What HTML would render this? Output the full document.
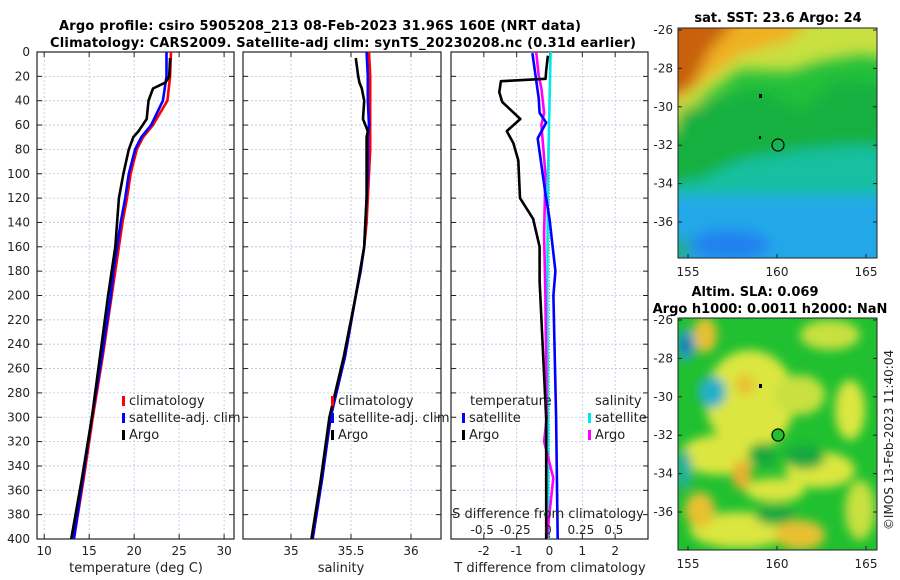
<!DOCTYPE html>
<html><head><meta charset="utf-8"><style>
body{margin:0;background:#fff;}
svg{display:block;font-family:"DejaVu Sans","Liberation Sans",sans-serif;}
</style></head><body>
<svg id="fig" width="900" height="580" viewBox="0 0 900 580" xmlns="http://www.w3.org/2000/svg">
<defs>
<filter id="bl" x="-50%" y="-50%" width="200%" height="200%"><feGaussianBlur stdDeviation="7"/></filter>
<filter id="bl2" x="-50%" y="-50%" width="200%" height="200%"><feGaussianBlur stdDeviation="5"/></filter>
<clipPath id="c1"><rect x="678" y="28" width="199" height="230"/></clipPath>
<clipPath id="c2"><rect x="678" y="318" width="199" height="232"/></clipPath>
</defs>
<text x="320" y="30" text-anchor="middle" font-size="13" font-weight="bold" textLength="522">Argo profile: csiro 5905208_213 08-Feb-2023 31.96S 160E (NRT data)</text>
<text x="343" y="47" text-anchor="middle" font-size="13" font-weight="bold" textLength="586">Climatology: CARS2009. Satellite-adj clim: synTS_20230208.nc (0.31d earlier)</text>

<g id="sstmap" clip-path="url(#c1)">
<rect x="678" y="28" width="199" height="230" fill="#22c03a"/>
<g filter="url(#bl)">
<polygon points="660,10 900,10 900,60 860,55 820,62 790,72 740,70 700,100 690,130 660,130" fill="#c8e040"/>
<polygon points="660,10 820,10 790,40 740,55 700,85 660,110" fill="#f0b020"/>
<polygon points="660,10 745,10 710,50 690,90 660,100" fill="#c86010"/>
<polygon points="680,110 760,90 800,110 840,80 900,90 900,170 860,150 820,150 760,170 700,185 660,190" fill="#18b040"/>
<polygon points="740,160 800,150 860,145 900,150 900,200 660,200 660,185 700,180" fill="#18c0a0"/>
<rect x="660" y="195" width="250" height="80" fill="#20a8e8"/>
<ellipse cx="730" cy="245" rx="40" ry="15" fill="#2080f0"/>
<ellipse cx="680" cy="250" rx="10" ry="10" fill="#20b040"/>
</g>
<rect x="759" y="94" width="3" height="4" fill="#000"/>
<rect x="759" y="136" width="2" height="3" fill="#000"/>
<circle cx="778" cy="145" r="6" fill="none" stroke="#000" stroke-width="1.2"/>
</g>
<rect x="678" y="28" width="199" height="230" fill="none" stroke="#222"/>
<text x="778" y="22" text-anchor="middle" font-size="13" font-weight="bold">sat. SST: 23.6 Argo: 24</text>

<g id="slamap" clip-path="url(#c2)">
<rect x="678" y="318" width="199" height="232" fill="#20c030"/>
<g filter="url(#bl2)">
<ellipse cx="750" cy="400" rx="45" ry="50" fill="#dce640"/>
<ellipse cx="720" cy="455" rx="40" ry="20" fill="#dce640"/>
<ellipse cx="800" cy="395" rx="25" ry="20" fill="#c8e040"/>
<ellipse cx="830" cy="335" rx="30" ry="15" fill="#c8e040"/>
<ellipse cx="850" cy="410" rx="15" ry="30" fill="#dce640"/>
<ellipse cx="820" cy="470" rx="35" ry="18" fill="#dce640"/>
<ellipse cx="740" cy="530" rx="50" ry="18" fill="#dce640"/>
<ellipse cx="800" cy="535" rx="25" ry="15" fill="#e8c030"/>
<ellipse cx="860" cy="510" rx="15" ry="30" fill="#c8e040"/>
<ellipse cx="775" cy="490" rx="30" ry="12" fill="#dce640"/>
<ellipse cx="705" cy="335" rx="12" ry="18" fill="#e8c030"/>
<ellipse cx="742" cy="475" rx="10" ry="15" fill="#e8b030"/>
<ellipse cx="700" cy="510" rx="15" ry="18" fill="#e8c030"/>
<ellipse cx="745" cy="385" rx="10" ry="10" fill="#e8c030"/>
<ellipse cx="686" cy="345" rx="9" ry="16" fill="#20a0d0"/>
<ellipse cx="686" cy="345" rx="4" ry="6" fill="#103090"/>
<ellipse cx="712" cy="392" rx="14" ry="16" fill="#20b0c8"/>
<ellipse cx="684" cy="470" rx="8" ry="20" fill="#20b0a0"/>
<ellipse cx="762" cy="455" rx="14" ry="12" fill="#18a840"/>
<ellipse cx="805" cy="457" rx="20" ry="12" fill="#18a840"/>
<ellipse cx="775" cy="515" rx="20" ry="10" fill="#18a840"/>
</g>
<rect x="759" y="384" width="3" height="4" fill="#000"/>
<circle cx="778" cy="435" r="6" fill="#20c030" stroke="#000" stroke-width="1.2"/>
</g>
<rect x="678" y="318" width="199" height="232" fill="none" stroke="#222"/>
<text x="755" y="296" text-anchor="middle" font-size="13" font-weight="bold">Altim. SLA: 0.069</text>
<text x="770" y="313" text-anchor="middle" font-size="13" font-weight="bold">Argo h1000: 0.0011 h2000: NaN</text>
<text transform="translate(893,440) rotate(-90)" text-anchor="middle" font-size="12" fill="#222">©IMOS 13-Feb-2023 11:40:04</text>
<g id="axes"></g>
</svg>
<script>
// depth levels (dbar) and series
const tempDepth=[0,20,40,60,70,80,100,120,140,160,180,200,250,300,350,400];
const tempClim=[24.1,24.0,23.7,22.1,21.0,20.3,19.6,19.2,18.7,18.3,17.9,17.5,16.5,15.4,14.4,13.3];
const tempSat=[23.6,23.6,23.2,21.9,20.8,20.1,19.4,19.0,18.5,18.1,17.7,17.4,16.4,15.3,14.3,13.3];
const argoDepth=[5,20,25,30,40,55,65,70,80,100,120,160,200,250,300,350,400];
const tempArgo=[24.0,23.9,23.5,22.1,21.6,21.4,20.5,19.9,19.4,18.8,18.3,17.9,17.1,16.2,15.3,14.2,13.0];
const salClim=[35.65,35.66,35.66,35.66,35.66,35.66,35.65,35.64,35.63,35.61,35.58,35.54,35.45,35.33,35.26,35.18];
const salSat=[35.63,35.64,35.64,35.65,35.64,35.64,35.64,35.63,35.62,35.61,35.58,35.54,35.45,35.33,35.26,35.18];
const salArgo=[35.54,35.56,35.57,35.59,35.61,35.60,35.64,35.63,35.63,35.63,35.63,35.61,35.54,35.44,35.32,35.25,35.17];
const dTDepth=[1,38,50,58,71,115,137,180,200,300,400];
const dTSat=[-0.52,-0.33,-0.3,-0.1,-0.36,-0.13,0.0,0.18,0.12,0.2,0.25];
const dTArgoDepth=[3,15,22,24,33,41,55,65,75,89,120,137,160,188,245,301,358,400];
const dTArgo=[-0.05,-0.1,-0.12,-1.48,-1.53,-1.44,-0.89,-1.3,-1.1,-0.95,-0.9,-0.5,-0.3,-0.3,-0.2,-0.1,-0.1,-0.1];
const dSDepth=[0,50,100,200,300,400];
const dSSat=[0.02,0.01,0.0,-0.005,0.0,0.0];
const dSArgoDepth=[0,20,30,50,60,100,150,200,300,320,350,400];
const dSArgo=[-0.09,-0.07,-0.05,-0.03,-0.05,-0.02,-0.03,-0.02,-0.01,-0.03,0.04,-0.01];
const depthTicks=[0,20,40,60,80,100,120,140,160,180,200,220,240,260,280,300,320,340,360,380,400];
const tTicks=[10,15,20,25,30];
const sTicks=[35,35.5,36];
const dtTicks=[-2,-1,0,1,2];
const dsTicks=[-0.5,-0.25,0,0.25,0.5];
const dsTickLabels=['-0.5','-0.25','0','0.25','0.5'];
const latTicks=[-26,-28,-30,-32,-34,-36];
const lonTicks=[155,160,165];

const NS='http://www.w3.org/2000/svg';
const g=document.getElementById('axes');
function el(t,a,p){const e=document.createElementNS(NS,t);for(const k in a)e.setAttribute(k,a[k]);(p||g).appendChild(e);return e;}
const Y0=52,Y1=539;
const yD=d=>Y0+(Y1-Y0)*d/400;
const panels=[{x0:37,x1:234,lo:9.2,hi:31.1},{x0:243,x1:441,lo:34.6,hi:36.25},{x0:451,x1:648,lo:-3,hi:3}];
const sx=(p,v)=>p.x0+(v-p.lo)/(p.hi-p.lo)*(p.x1-p.x0);
const dsx=v=>548+v*131.5;

panels.forEach((p,i)=>{
  const ticks=[tTicks,sTicks,dtTicks][i];
  depthTicks.forEach(d=>{
    const l=el('line',{x1:p.x0,x2:p.x1,y1:yD(d),y2:yD(d),stroke:'#b8c4e0','stroke-width':0.8,'stroke-dasharray':'2,2'});
    
    
    el('line',{x1:p.x0,x2:p.x0+5,y1:yD(d),y2:yD(d),stroke:'#222'});
    el('line',{x1:p.x1,x2:p.x1-5,y1:yD(d),y2:yD(d),stroke:'#222'});
    if(i===0){const t=el('text',{x:30,y:yD(d)+4,'text-anchor':'end','font-size':12,fill:'#222'});t.textContent=d;
      
      }
  });
  ticks.forEach(v=>{
    const x=sx(p,v);
    el('line',{x1:x,x2:x,y1:Y0,y2:Y1,stroke:'#b8c4e0','stroke-width':0.8,'stroke-dasharray':'2,2'});
    el('line',{x1:x,x2:x,y1:Y1,y2:Y1-5,stroke:'#222'});
    el('line',{x1:x,x2:x,y1:Y0,y2:Y0+5,stroke:'#222'});
    const t=el('text',{x:x,y:555,'text-anchor':'middle','font-size':12,fill:'#222'});t.textContent=v;
    
    
  });
  const r=el('rect',{x:p.x0,y:Y0,width:p.x1-p.x0,height:Y1-Y0,fill:'none',stroke:'#222','stroke-width':1.2});
  
  
});
el('line',{x1:sx(panels[2],0),x2:sx(panels[2],0),y1:Y0,y2:Y1,stroke:'#999','stroke-dasharray':'1,2'});

function line(xs,ds,fx,col,name,w){
  const pts=xs.map((v,k)=>fx(v).toFixed(1)+','+yD(ds[k]).toFixed(1)).join(' ');
  const l=el('polyline',{points:pts,fill:'none',stroke:col,'stroke-width':w||2.6,'stroke-linejoin':'round'});
  
  
}
const P=panels;
line(tempClim,tempDepth,v=>sx(P[0],v),'#ff0000','temp-climatology-line');
line(tempSat,tempDepth,v=>sx(P[0],v),'#0000ff','temp-satellite-line');
line(tempArgo,argoDepth,v=>sx(P[0],v),'#000','temp-argo-line');
line(salClim,tempDepth,v=>sx(P[1],v),'#ff0000','sal-climatology-line');
line(salSat,tempDepth,v=>sx(P[1],v),'#0000ff','sal-satellite-line');
line(salArgo,argoDepth,v=>sx(P[1],v),'#000','sal-argo-line');
line(dSSat,dSDepth,dsx,'#00e8e8','ds-satellite-line');
line(dSArgo,dSArgoDepth,dsx,'#ff00ff','ds-argo-line');
line(dTSat,dTDepth,v=>sx(P[2],v),'#0000ff','dt-satellite-line');
line(dTArgo,dTArgoDepth,v=>sx(P[2],v),'#000','dt-argo-line');

function txt(x,y,s,name,opt){const t=el('text',Object.assign({x:x,y:y,'font-size':12,fill:'#222'},opt||{}));t.textContent=s;
  
  return t;}
txt(136,572,'temperature (deg C)','x-axis-title-temp',{'text-anchor':'middle','font-size':13});
txt(341,572,'salinity','x-axis-title-sal',{'text-anchor':'middle','font-size':13});
txt(550,572,'T difference from climatology','x-axis-title-dt',{'text-anchor':'middle','font-size':13});
txt(548,518,'S difference from climatology','ds-axis-title',{'text-anchor':'middle','font-size':13});
dsTicks.forEach((v,k)=>txt(dsx(v),534,dsTickLabels[k],'ds-tick-label',{'text-anchor':'middle','font-size':12}));

function leg(x,y,col,s,name){el('rect',{x:x,y:y-9,width:3,height:10,fill:col});txt(x+7,y,s,name,{'font-size':13});}
leg(122,405,'#ff0000','climatology','legend-climatology');
leg(122,422,'#0000ff','satellite-adj. clim','legend-satellite');
leg(122,439,'#000','Argo','legend-argo');
leg(331,405,'#ff0000','climatology','legend-climatology-2');
leg(331,422,'#0000ff','satellite-adj. clim','legend-satellite-2');
leg(331,439,'#000','Argo','legend-argo-2');
txt(470,405,'temperature','legend-title-temperature',{'font-size':13});
leg(462,422,'#0000ff','satellite','legend-dt-satellite');
leg(462,439,'#000','Argo','legend-dt-argo');
txt(595,405,'salinity','legend-title-salinity',{'font-size':13});
leg(588,422,'#00e8e8','satellite','legend-ds-satellite');
leg(588,439,'#ff00ff','Argo','legend-ds-argo');

[[28,30],[318,320]].forEach(([top,y26])=>{
  latTicks.forEach(la=>{const y=y26+(-26-la)*19.2;
    el('line',{x1:877,x2:873,y1:y,y2:y,stroke:'#222'});el('line',{x1:678,x2:682,y1:y,y2:y,stroke:'#222'});
    txt(673,y+4,la,'lat-tick-label',{'text-anchor':'end'});});
  lonTicks.forEach(lo=>{const x=688+(lo-155)*17.8;
    el('line',{x1:x,x2:x,y1:top+(top<100?230:232),y2:top+(top<100?226:228),stroke:'#222'});
    txt(x,top+(top<100?248:250),lo,'lon-tick-label',{'text-anchor':'middle'});});
});
</script>
</body></html>
